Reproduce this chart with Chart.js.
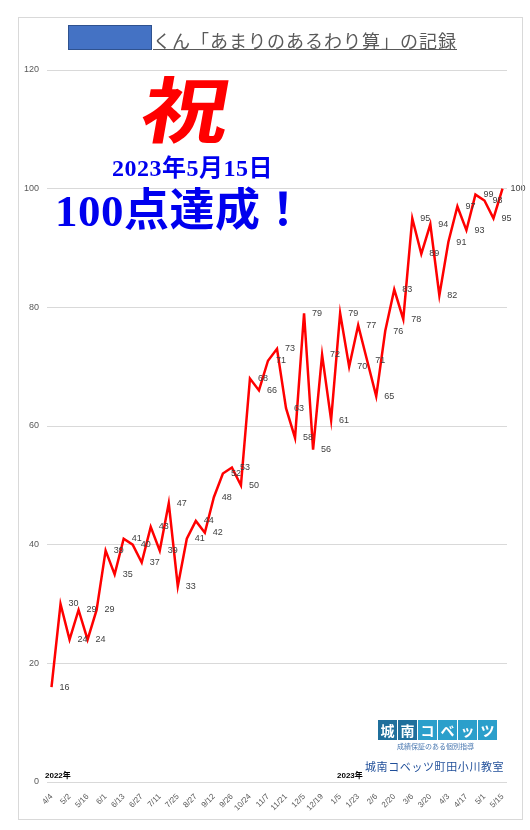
<!DOCTYPE html>
<html lang="ja">
<head>
<meta charset="utf-8">
<script src="https://cdn.jsdelivr.net/npm/chart.js@4"></script>
<style>
  body { margin: 0; background: #fff; }
  #wrap { position: relative; width: 530px; height: 830px; }
  #frame { position: absolute; left: 18px; top: 17px; width: 503px; height: 801px; border: 1px solid #d9d9d9; pointer-events: none; }
  .abs { position: absolute; white-space: nowrap; }
  #title { left: 153px; top: 28px; font: 18px "Noto Sans CJK JP", sans-serif; color: #595959; letter-spacing: 1px; text-decoration: underline; line-height: 24px; }
  #namebox { left: 68px; top: 25px; width: 84px; height: 25px; background: #4472c4; border: 1px solid #2f528f; box-sizing: border-box; }
  #iwai { left: 150px; top: 69px; font: bold 72px "Noto Sans CJK JP", sans-serif; color: #ff0000; line-height: 74px; transform: skewX(-10deg) scaleX(1.2); transform-origin: left top; }
  #date { left: 112px; top: 153px; font: bold 24px "Liberation Serif", "Noto Sans CJK JP", serif; color: #0000ee; letter-spacing: 0.5px; line-height: 30px; }
  #goal { left: 55px; top: 184px; font: bold 45px "Liberation Serif", "Noto Sans CJK JP", serif; color: #0000ee; letter-spacing: 0.5px; line-height: 54px; }
  .year { font: bold 8px "Liberation Sans", "Noto Sans CJK JP", sans-serif; color: #000; line-height: 10px; }
  #logo { left: 378px; top: 720px; display: flex; }
  #logo span { width: 19px; height: 20px; display: inline-block; text-align: center; color: #fff; font: bold 14px "Noto Sans CJK JP", sans-serif; line-height: 20px; margin-right: 1px; }
  #logo .d { background: #1f6f9c; }
  #logo .l { background: #2b9fcb; }
  #sub { left: 397px; top: 742px; font: 7px "Noto Sans CJK JP", sans-serif; color: #4a78b0; line-height: 9px; }
  #school { left: 365px; top: 758px; font: 11px "Noto Sans CJK JP", sans-serif; color: #1f4e99; letter-spacing: 0.6px; line-height: 16px; }
</style>
</head>
<body>
<div id="wrap">
  <canvas id="chart" width="530" height="830"></canvas>
  <div id="frame"></div>
  <div class="abs" id="title">くん「あまりのあるわり算」の記録</div>
  <div class="abs" id="namebox"></div>
  <div class="abs" id="iwai">祝</div>
  <div class="abs" id="date">2023年5月15日</div>
  <div class="abs" id="goal">100点達成！</div>
  <div class="abs year" style="left:45px; top:771px;">2022年</div>
  <div class="abs year" style="left:337px; top:771px;">2023年</div>
  <div class="abs" id="logo"><span class="d">城</span><span class="d">南</span><span class="l">コ</span><span class="l">ベ</span><span class="l">ッ</span><span class="l">ツ</span></div>
  <div class="abs" id="sub">成績保証のある個別指導</div>
  <div class="abs" id="school">城南コベッツ町田小川教室</div>
</div>
<script>
const dates = ['4/4', '4/18', '5/2', '5/9', '5/16', '5/23', '6/1', '6/6', '6/13', '6/20',
  '6/27', '7/4', '7/11', '7/18', '7/25', '8/22', '8/27', '9/5', '9/12', '9/19',
  '9/26', '10/10', '10/24', '10/31', '11/7', '11/14', '11/21', '11/28', '12/5', '12/12',
  '12/19', '12/26', '1/5', '1/16', '1/23', '1/30', '2/6', '2/13', '2/20', '2/27',
  '3/6', '3/13', '3/20', '3/27', '4/3', '4/10', '4/17', '4/24', '5/1', '5/8', '5/15'];
const scores = [16, 30, 24, 29, 24, 29, 39, 35, 41, 40,
  37, 43, 39, 47, 33, 41, 44, 42, 48, 52,
  53, 50, 68, 66, 71, 73, 63, 58, 79, 56,
  72, 61, 79, 70, 77, 71, 65, 76, 83, 78,
  95, 89, 94, 82, 91, 97, 93, 99, 98, 95, 100];
const yTicks = [0, 20, 40, 60, 80, 100, 120];

// value labels to the right of each point, like Excel's "right" position
const pointLabels = {
  id: 'pointLabels',
  afterDatasetsDraw(chart) {
    const { ctx } = chart;
    const meta = chart.getDatasetMeta(0);
    ctx.save();
    ctx.font = '9px "Liberation Sans", sans-serif';
    ctx.fillStyle = '#404040';
    ctx.textAlign = 'left';
    ctx.textBaseline = 'middle';
    meta.data.forEach((pt, i) => {
      ctx.fillText(String(scores[i]), pt.x + 8, pt.y);
    });
    ctx.restore();
  },
};

function scoreChart() {
  const config = {
    type: 'line',
    data: {
      labels: dates,
      datasets: [{
        data: scores,
        borderColor: '#ff0000',
        borderWidth: 2.5,
        pointRadius: 0,
        tension: 0,
      }],
    },
    options: {
      responsive: false,
      animation: false,
      layout: { padding: { top: 70, right: 23, bottom: 0, left: 0 } },
      plugins: { legend: { display: false }, tooltip: { enabled: false } },
      scales: {
        x: {
          offset: true,
          grid: { display: false },
          border: { display: false },
          afterFit: (scale) => { scale.height = 48; },
          ticks: {
            autoSkip: false,
            minRotation: 45,
            maxRotation: 45,
            padding: 2,
            color: '#595959',
            font: { size: 8, family: '"Liberation Sans", sans-serif' },
            callback: (val, i) => (i % 2 === 0 ? dates[i] : ''),
          },
        },
        y: {
          min: 0,
          max: 120,
          afterFit: (scale) => { scale.width = 47; },
          afterBuildTicks: (scale) => { scale.ticks = yTicks.map((v) => ({ value: v })); },
          border: { display: false },
          grid: { color: '#d9d9d9', drawTicks: false },
          ticks: {
            padding: 8,
            color: '#595959',
            font: { size: 9, family: '"Liberation Sans", sans-serif' },
          },
        },
      },
    },
    plugins: [pointLabels],
  };
  return new Chart(document.getElementById('chart'), config);
}

scoreChart();
</script>
</body>
</html>
